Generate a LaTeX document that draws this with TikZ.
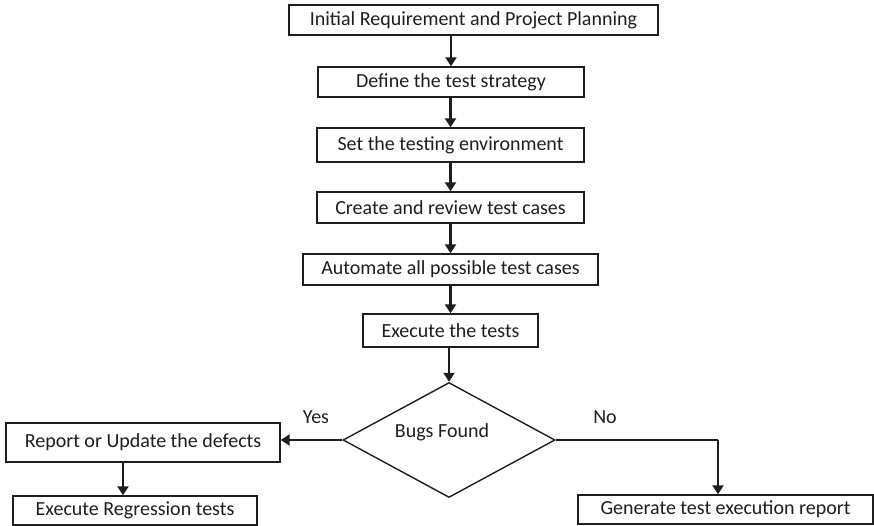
\documentclass[tikz,border=0pt]{standalone}
\usepackage{fontspec}
\setmainfont{Carlito}
\usetikzlibrary{shapes.geometric,arrows.meta}
\definecolor{ink}{HTML}{1E1E1E}
\tikzset{
  box/.style={draw=ink,line width=1.4pt,rectangle,inner sep=0pt,text=ink,font=\fontsize{20}{24}\selectfont},
  flow/.style={draw=ink,line width=2.6pt,-{Triangle[width=11pt,length=9pt]}},
  thinline/.style={draw=ink,line width=1.3pt},
  lbl/.style={text=ink,font=\fontsize{20}{24}\selectfont,inner sep=0pt}
}
\begin{document}
\begin{tikzpicture}[x=1pt,y=-1pt]
\useasboundingbox (0,0) rectangle (874,526);
\node[box,minimum width=369pt,minimum height=30pt] (b1) at (473.5,20) {Initial Requirement and Project Planning};
\node[box,minimum width=266pt,minimum height=30pt] (b2) at (451,82) {Define the test strategy};
\node[box,minimum width=267pt,minimum height=34pt] (b3) at (450.5,145) {Set the testing environment};
\node[box,minimum width=267pt,minimum height=31pt] (b4) at (450.5,207.5) {Create and review test cases};
\node[box,minimum width=295pt,minimum height=31pt] (b5) at (450.5,269.5) {Automate all possible test cases};
\node[box,minimum width=175pt,minimum height=33pt] (b6) at (450.5,330.5) {Execute the tests};
\node[draw=ink,line width=1.4pt,diamond,inner sep=0pt,minimum width=212pt,minimum height=115pt] (d) at (449,440) {};
\node[lbl] (dt) at (442,432) {Bugs Found};
\node[box,minimum width=274pt,minimum height=39pt] (r) at (143,442.5) {Report or Update the defects};
\node[box,minimum width=244pt,minimum height=29pt] (e) at (135,510.5) {Execute Regression tests};
\node[box,minimum width=295pt,minimum height=29pt] (g) at (725.5,509.5) {Generate test execution report};
\node[lbl] (yes) at (316,417) {Yes};
\node[lbl] (no) at (605,417) {No};
\coordinate (turn) at (718,440);
\draw[flow] (b1.south -| b2) -- (b2.north);
\draw[flow] (b2.south -| b3) -- (b3.north);
\draw[flow] (b3.south -| b4) -- (b4.north);
\draw[flow] (b4.south -| b5) -- (b5.north);
\draw[flow] (b5.south -| b6) -- (b6.north);
\draw[flow] (b6.south -| d.north) -- (d.north);
\draw[flow] (d.west) -- (d.west -| r.east);
\draw[flow] (r.south -| 123,0) -- (e.north -| 123,0);
\draw[thinline] (d.east) -- (turn);
\draw[flow] (turn) -- (turn |- g.north);
\end{tikzpicture}
\end{document}
